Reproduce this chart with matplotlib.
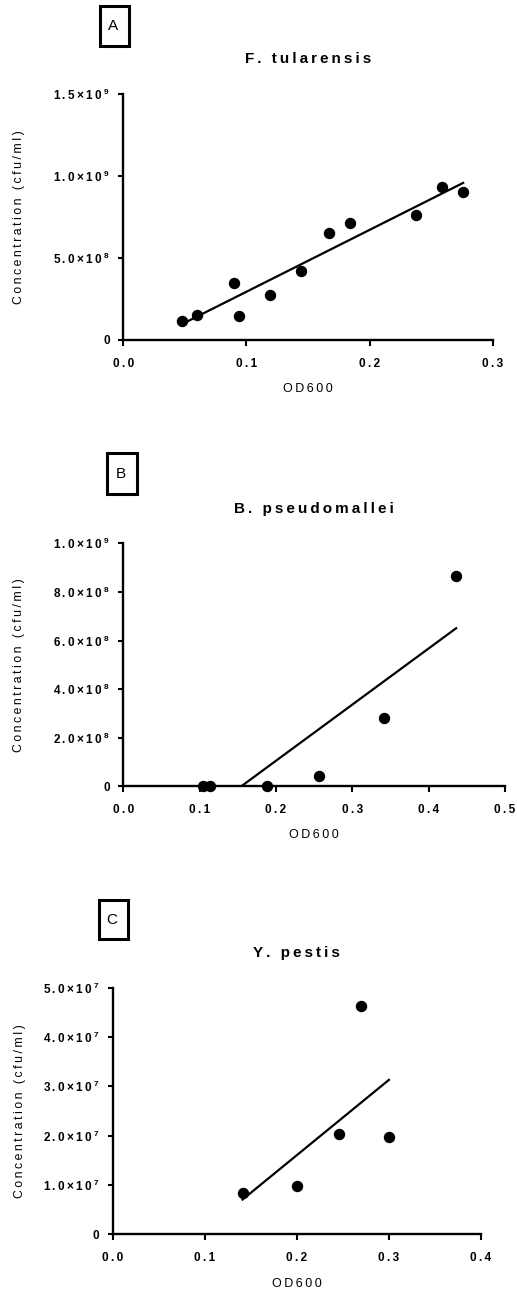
import numpy as np
import matplotlib
matplotlib.use("Agg")
import matplotlib.pyplot as plt
from matplotlib.patches import Rectangle
from matplotlib.ticker import FixedLocator, FuncFormatter

plt.rcParams['font.family'] = ['Liberation Sans', 'DejaVu Sans']
plt.rcParams['mathtext.fontset'] = 'custom'
plt.rcParams['mathtext.rm'] = 'Liberation Sans:bold'
plt.rcParams['mathtext.bf'] = 'Liberation Sans:bold'

# Dane
ft_od = [0.048, 0.060, 0.090, 0.094, 0.119, 0.144, 0.167, 0.184, 0.238, 0.259, 0.276]
ft_conc = [1.18e8, 1.51e8, 3.50e8, 1.47e8, 2.73e8, 4.19e8, 6.51e8, 7.16e8, 7.61e8, 9.36e8, 9.05e8]

bp_od = [0.105, 0.114, 0.188, 0.257, 0.342, 0.436]
bp_conc = [0, 0, 0, 4.3e7, 2.83e8, 8.64e8]

yp_od = [0.141, 0.200, 0.246, 0.270, 0.300]
yp_conc = [8.3e6, 9.7e6, 2.03e7, 4.62e7, 1.97e7]

ft_xticks = [0.0, 0.1, 0.2, 0.3]
ft_yticks = [0, 5e8, 1e9, 1.5e9]
bp_xticks = [0.0, 0.1, 0.2, 0.3, 0.4, 0.5]
bp_yticks = [0, 2e8, 4e8, 6e8, 8e8, 1e9]
yp_xticks = [0.0, 0.1, 0.2, 0.3, 0.4]
yp_yticks = [0, 1e7, 2e7, 3e7, 4e7, 5e7]

W, H = 517, 1295
GAP = "\u2009"


def spaced(s, gap=GAP):
    return gap.join(s)


def sci_label(v, pos):
    if v == 0:
        return "0"
    e = int(np.floor(np.log10(v) + 1e-9))
    m = v / 10 ** e
    return spaced(f"{m:.1f}×10") + GAP + "$^{%d}$" % e


def x_label(v, pos):
    return spaced(f"{v:.1f}")


def px_axes(fig, left, right, top, bottom):
    return fig.add_axes([left / W, 1 - bottom / H, (right - left) / W, (bottom - top) / H])


def letter_box(fig, letter, x0, x1, y0, y1):
    fig.add_artist(Rectangle((x0 / W, 1 - y1 / H), (x1 - x0) / W, (y1 - y0) / H,
                             transform=fig.transFigure, fill=False, lw=2.2, ec="black"))
    fig.text((x0 + x1) / 2 / W - 1.5 / W, 1 - (y0 + y1) / 2 / H, letter,
             ha="center", va="center", fontsize=11)


def panel(ax, od, conc, xticks, yticks, title, ylab_x):
    ax.plot(od, conc, "o", color="black", ms=7.2, clip_on=False, zorder=3)
    k, b = np.polyfit(od, conc, 1)
    xx = np.array([min(od), max(od)])
    ax.plot(xx, k * xx + b, color="black", lw=1.6)
    ax.set_xlim(xticks[0], xticks[-1])
    ax.set_ylim(yticks[0], yticks[-1])
    ax.xaxis.set_major_locator(FixedLocator(xticks))
    ax.yaxis.set_major_locator(FixedLocator(yticks))
    ax.xaxis.set_major_formatter(FuncFormatter(x_label))
    ax.yaxis.set_major_formatter(FuncFormatter(sci_label))
    for s in ["top", "right"]:
        ax.spines[s].set_visible(False)
    for s in ["left", "bottom"]:
        ax.spines[s].set_linewidth(1.7)
    ax.tick_params(axis="x", length=4, width=1.5, pad=9, labelsize=8.5)
    ax.tick_params(axis="y", length=3.5, width=1.5, pad=6, labelsize=8.5)
    for lab in ax.get_xticklabels() + ax.get_yticklabels():
        lab.set_fontweight("bold")
    ax.set_xlabel(spaced("OD600"), fontsize=9)
    ax.set_ylabel(spaced("Concentration (cfu/ml)"), fontsize=8.8)
    ax.xaxis.set_label_coords(0.5, -0.176)
    ax.yaxis.set_label_coords(ylab_x, 0.5)
    ax.text(0.5, 1.142, spaced(title), transform=ax.transAxes, ha="center", va="center",
            fontsize=11, fontweight="bold")


fig = plt.figure(figsize=(W / 100, H / 100), dpi=100)

ax1 = px_axes(fig, 123.3, 492.7, 94.3, 340)
panel(ax1, ft_od, ft_conc, ft_xticks, ft_yticks, "F. tularensis", -0.266)
letter_box(fig, "A", 100, 128.7, 6, 45.7)

ax2 = px_axes(fig, 123.3, 505, 543.3, 786.3)
panel(ax2, bp_od, bp_conc, bp_xticks, bp_yticks, "B. pseudomallei", -0.2575)
letter_box(fig, "B", 107, 136.7, 453.3, 494)

ax3 = px_axes(fig, 112.7, 481, 987.7, 1234.3)
panel(ax3, yp_od, yp_conc, yp_xticks, yp_yticks, "Y. pestis", -0.2354)
letter_box(fig, "C", 98.7, 128.3, 900, 939)

fig.savefig("out.png", dpi=100)
